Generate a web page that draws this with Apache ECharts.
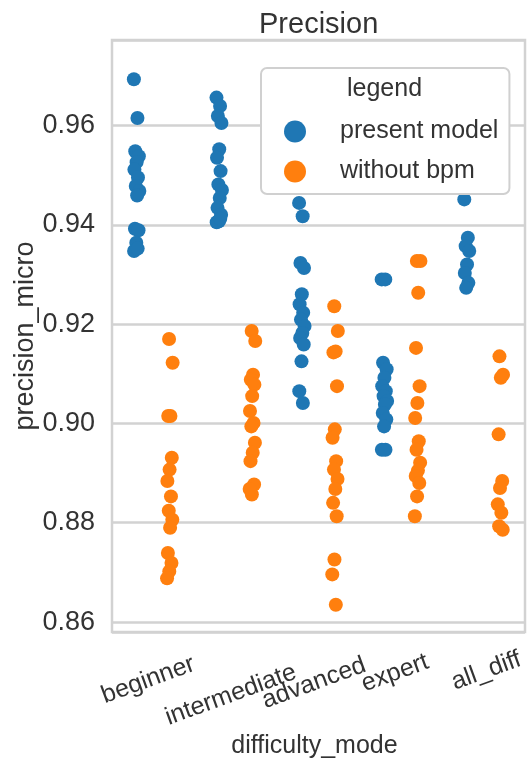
<!DOCTYPE html>
<html>
<head>
<meta charset="utf-8">
<script src="https://cdn.jsdelivr.net/npm/echarts@6/dist/echarts.min.js"></script>
<style>html,body{margin:0;padding:0;background:#fff}#chart{width:529px;height:769px}</style>
</head>
<body>
<div id="chart"></div>
<script>
const categories = ['beginner', 'intermediate', 'advanced', 'expert', 'all_diff'];
const seriesNames = ['present model', 'without bpm'];

const beginnerPresent = [0.9693, 0.9615, 0.9548, 0.9538, 0.9526, 0.9511, 0.9495, 0.9478, 0.9468, 0.9459, 0.9392, 0.9389, 0.9364, 0.9347, 0.9352];
const beginnerWithout = [0.9170, 0.9122, 0.9015, 0.9015, 0.8931, 0.8907, 0.8884, 0.8853, 0.8824, 0.8806, 0.8790, 0.8739, 0.8719, 0.8702, 0.8688];
const intermediatePresent = [0.9656, 0.9639, 0.9619, 0.9605, 0.9552, 0.9535, 0.9508, 0.9481, 0.9470, 0.9454, 0.9434, 0.9420, 0.9407, 0.9405, 0.9412];
const intermediateWithout = [0.9186, 0.9166, 0.9098, 0.9088, 0.9078, 0.9055, 0.9025, 0.9001, 0.8994, 0.8961, 0.8941, 0.8924, 0.8877, 0.8857, 0.8868];
const advancedPresent = [0.9444, 0.9417, 0.9323, 0.9313, 0.9260, 0.9240, 0.9223, 0.9209, 0.9196, 0.9182, 0.9172, 0.9159, 0.9125, 0.9065, 0.9041];
const advancedWithout = [0.9236, 0.9186, 0.9145, 0.9143, 0.9075, 0.8988, 0.8971, 0.8924, 0.8907, 0.8888, 0.8868, 0.8840, 0.8813, 0.8726, 0.8696, 0.8635];
const expertPresent = [0.9290, 0.9290, 0.9122, 0.9109, 0.9092, 0.9075, 0.9065, 0.9055, 0.9045, 0.9038, 0.9021, 0.9008, 0.8994, 0.8947, 0.8947];
const expertWithout = [0.9327, 0.9327, 0.9263, 0.9152, 0.9075, 0.9041, 0.9011, 0.8964, 0.8947, 0.8921, 0.8905, 0.8894, 0.8880, 0.8853, 0.8813];
const allDiffPresent = [0.9451, 0.9374, 0.9357, 0.9347, 0.9320, 0.9303, 0.9283, 0.9273];
const allDiffWithout = [0.9135, 0.9098, 0.9092, 0.8978, 0.8884, 0.8870, 0.8837, 0.8820, 0.8793, 0.8786];

const presentGroups = [beginnerPresent, intermediatePresent, advancedPresent, expertPresent, allDiffPresent];
const withoutGroups = [beginnerWithout, intermediateWithout, advancedWithout, expertWithout, allDiffWithout];

// deterministic strip-plot jitter (layout only)
function jitter(i, j, s) {
  const t = ((i * 7 + j * 0.618034 + s * 0.37) % 1 + 1) % 1;
  return (t - 0.5) * 0.07;
}
function build(groups, offset, s) {
  const out = [];
  groups.forEach((vals, i) => vals.forEach((v, j) => out.push([i + offset + jitter(i, j, s), v])));
  return out;
}

const FONT = "'Liberation Sans', Arial, sans-serif";
const TXT = '#333333';
const GRIDC = '#d2d2d2';

// per-label offsets emulating matplotlib's rotated, centred tick labels
const labelLine = [72, 100, 78, 58, 60];
const labelRight = [37, 47, 38, 34, 16];
const categoryData = categories.map((c, i) => ({
  value: c,
  textStyle: {
    fontSize: 25, color: TXT, fontFamily: FONT, align: 'center', verticalAlign: 'top',
    lineHeight: labelLine[i], padding: [0, labelRight[i], 0, 0]
  }
}));

const chart = echarts.init(document.getElementById('chart'), null, { renderer: 'canvas' });
chart.setOption({
  animation: false,
  backgroundColor: '#ffffff',
  textStyle: { fontFamily: FONT },
  title: [
    { text: 'Precision', left: 259, top: 10, padding: 0, textStyle: { fontSize: 29, fontWeight: 'normal', color: TXT, fontFamily: FONT } },
    { text: 'legend', left: 347, top: 77, padding: 0, z: 10, textStyle: { fontSize: 25, fontWeight: 'normal', color: TXT, fontFamily: FONT } }
  ],
  legend: {
    data: seriesNames,
    orient: 'vertical',
    left: 261, top: 68,
    padding: [51, 11, 10, 23],
    itemWidth: 22, itemHeight: 22, itemGap: 15,
    icon: 'circle',
    backgroundColor: '#ffffff',
    borderColor: '#d0d0d0', borderWidth: 2, borderRadius: 6,
    textStyle: { fontSize: 25, color: TXT, fontFamily: FONT, lineHeight: 25, padding: [0, 0, 0, 29] }
  },
  grid: {
    left: 112, right: 4, top: 40, bottom: 137,
    outerBoundsMode: 'none', containLabel: false,
    show: true, borderColor: GRIDC, borderWidth: 2.5, backgroundColor: '#ffffff'
  },
  xAxis: [
    {
      type: 'category', data: categoryData, boundaryGap: true,
      axisLine: { show: false }, axisTick: { show: false }, splitLine: { show: false },
      axisLabel: {
        interval: 0, rotate: 20, align: 'center', verticalAlign: 'top', margin: 8,
        fontSize: 25, color: TXT, fontFamily: FONT
      },
      name: 'difficulty_mode', nameLocation: 'middle', nameGap: 102, nameMoveOverlap: false,
      nameTextStyle: { fontSize: 25, color: TXT, fontFamily: FONT, padding: [0, 8, 0, 0] }
    },
    { type: 'value', min: -0.5, max: 4.5, show: false }
  ],
  yAxis: {
    type: 'value', min: 0.858, max: 0.9772,
    axisLine: { show: false }, axisTick: { show: false },
    splitLine: { show: true, lineStyle: { color: GRIDC, width: 2.5 } },
    axisLabel: {
      formatter: v => v.toFixed(2), showMinLabel: false, showMaxLabel: false,
      fontSize: 27, color: TXT, margin: 17, fontFamily: FONT
    },
    name: 'precision_micro', nameLocation: 'middle', nameGap: 73, nameMoveOverlap: false,
    nameTextStyle: { fontSize: 27, color: TXT, fontFamily: FONT }
  },
  series: [
    { name: seriesNames[0], type: 'scatter', xAxisIndex: 1, symbolSize: 14, itemStyle: { color: '#1f77b4', opacity: 1 }, data: build(presentGroups, -0.2, 0) },
    { name: seriesNames[1], type: 'scatter', xAxisIndex: 1, symbolSize: 14, itemStyle: { color: '#ff7f0e', opacity: 1 }, data: build(withoutGroups, 0.2, 1) }
  ]
});
</script>
</body>
</html>
